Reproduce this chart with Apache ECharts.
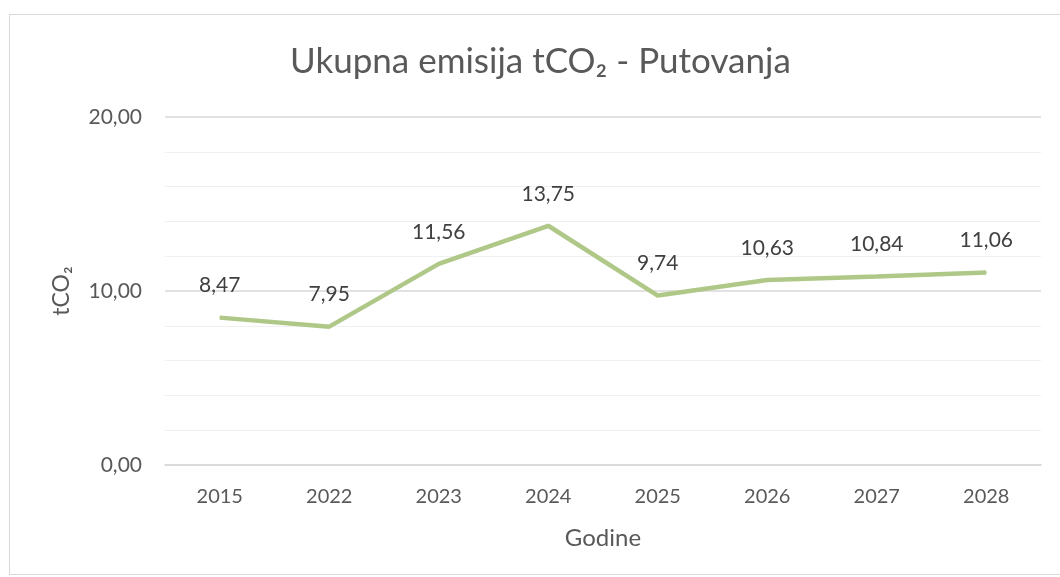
<!DOCTYPE html>
<html>
<head>
<meta charset="utf-8">
<script src="https://cdn.jsdelivr.net/npm/echarts@6/dist/echarts.min.js"></script>
<style>
  html, body { margin: 0; padding: 0; background: #ffffff; }
  #frame { position: absolute; left: 9px; top: 14px; width: 1060px; height: 561px; border: 1px solid #d9d9d9; box-sizing: border-box; }
  #chart { position: absolute; left: 0; top: 0; width: 1060px; height: 577px; }
</style>
</head>
<body>
<div id="frame"></div>
<div id="chart"></div>
<script>
const categories = ['2015', '2022', '2023', '2024', '2025', '2026', '2027', '2028'];
const emissions = [8.47, 7.95, 11.56, 13.75, 9.74, 10.63, 10.84, 11.06];
const titleText = 'Ukupna emisija tCO₂ - Putovanja';
const yAxisName = 'tCO₂';
const xAxisName = 'Godine';

const fmt = v => Number(v).toFixed(2).replace('.', ',');
const FONT = 'Lato';

const chart = echarts.init(document.getElementById('chart'), null, { renderer: 'canvas' });
chart.setOption({
  backgroundColor: 'transparent',
  animation: false,
  title: {
    text: titleText,
    left: 285,
    top: 39,
    textStyle: { fontFamily: FONT, fontSize: 35, fontWeight: 'normal', color: '#595959' }
  },
  grid: { left: 165, right: 19, top: 117, bottom: 112 },
  xAxis: {
    type: 'category',
    data: categories,
    boundaryGap: true,
    axisLine: { show: true, lineStyle: { color: '#d9d9d9', width: 1.5 } },
    axisTick: { show: false },
    axisLabel: { margin: 22, fontFamily: FONT, fontSize: 20, color: '#595959' },
    name: xAxisName,
    nameLocation: 'middle',
    nameGap: 61,
    nameTextStyle: { fontFamily: FONT, fontSize: 24, color: '#595959' }
  },
  yAxis: {
    type: 'value',
    min: 0,
    max: 20,
    interval: 10,
    axisLine: { show: false },
    axisTick: { show: false },
    axisLabel: { margin: 23, fontFamily: FONT, fontSize: 21, color: '#595959', formatter: fmt },
    splitLine: { show: true, lineStyle: { color: '#d9d9d9', width: 1.5 } },
    minorTick: { show: false, splitNumber: 5 },
    minorSplitLine: { show: true, lineStyle: { color: '#f0f0f0', width: 1 } },
    name: yAxisName,
    nameLocation: 'middle',
    nameGap: 92,
    nameRotate: 90,
    nameTextStyle: { fontFamily: FONT, fontSize: 23, color: '#595959' }
  },
  series: [{
    type: 'line',
    data: emissions,
    symbol: 'circle',
    symbolSize: 1,
    showSymbol: true,
    itemStyle: { color: '#afc888' },
    lineStyle: { color: '#afc888', width: 4.5 },
    label: {
      show: true,
      position: 'top',
      distance: 21,
      fontFamily: FONT,
      fontSize: 21,
      color: '#404040',
      formatter: p => fmt(p.value)
    }
  }]
});
</script>
</body>
</html>
